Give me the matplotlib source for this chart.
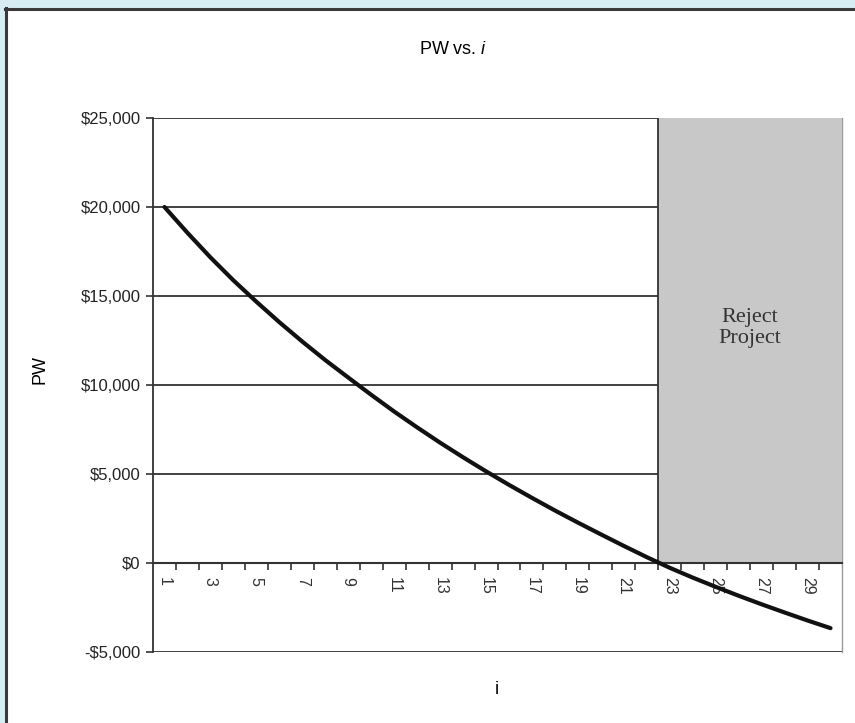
import numpy as np
import matplotlib.pyplot as plt
from matplotlib.patches import Rectangle
from matplotlib.lines import Line2D

plt.rcParams['font.family'] = ['Liberation Sans', 'DejaVu Sans']
plt.rcParams['mathtext.fontset'] = 'custom'
plt.rcParams['mathtext.rm'] = 'Liberation Sans'
plt.rcParams['mathtext.it'] = 'Liberation Sans:italic'

# Taux d'interet (%) et valeur actuelle PW
rates = list(range(1, 31))
pw = [20000, 18550, 17170, 15880, 14680, 13530, 12440, 11400, 10420, 9450,
      8510, 7620, 6760, 5940, 5150, 4390, 3660, 2950, 2270, 1610,
      960, 330, -270, -820, -1340, -1840, -2320, -2780, -3230, -3660]
y_ticks = [-5000, 0, 5000, 10000, 15000, 20000, 25000]
reject_from = 22.5   # limite de la zone de rejet (entre 22 et 23)

W, H = 855, 723
fig = plt.figure(figsize=(W / 100, H / 100), dpi=100)
fig.patch.set_facecolor('#d7edf4')

# panneau blanc avec bordure sombre
fig.patches.append(Rectangle((5 / W, 0), 1 - 5 / W, 1 - 8 / H, transform=fig.transFigure,
                             facecolor='white', edgecolor='none', zorder=-5))
fig.lines.append(Line2D([6 / W, 6 / W], [0, 1 - 8 / H], transform=fig.transFigure,
                        color='#3a3a3a', lw=2.2, zorder=-4))
fig.lines.append(Line2D([5 / W, 1], [1 - 9 / H, 1 - 9 / H], transform=fig.transFigure,
                        color='#3a3a3a', lw=2.2, zorder=-4))

left, right, top, bottom = 153, 842, 118, 652
ax = fig.add_axes([left / W, 1 - bottom / H, (right - left) / W, (bottom - top) / H])
ax.set_zorder(2)
ax.set_facecolor('white')
ax.set_xlim(0.5, 30.5)
ax.set_ylim(-5000, 25000)

# grille horizontale
for yv in y_ticks:
    ax.axhline(yv, color='#333333', lw=1.3, zorder=1)

# zone "Reject Project"
ax.fill_between([reject_from, 30.5], 0, 25000, color='#c8c8c8', zorder=2, lw=0)
ax.plot([reject_from, reject_from], [0, 25000], color='#333333', lw=1.3, zorder=3)
ax.text(26.5, 13200, 'Reject\nProject', family='Liberation Serif', fontsize=16,
        color='#333333', ha='center', va='center', linespacing=1.15, zorder=3)

ax.plot(rates, pw, color='#111111', lw=3.0, zorder=5, solid_capstyle='round')

# axes
for s in ['top', 'right']:
    ax.spines[s].set_visible(False)
ax.plot([30.5, 30.5], [-5000, 25000], color='#9a9a9a', lw=1.0, zorder=1, clip_on=False)
ax.spines['left'].set_color('#333333')
ax.spines['left'].set_linewidth(1.3)
ax.spines['bottom'].set_position(('data', 0))
ax.spines['bottom'].set_color('#333333')
ax.spines['bottom'].set_linewidth(1.5)
ax.spines['bottom'].set_zorder(4)

ax.set_yticks(y_ticks)
ax.set_yticklabels(['-$5,000' if v < 0 else f'${v:,}' for v in y_ticks], fontsize=12, color='#222222')
ax.tick_params(axis='y', length=5, width=1.2, color='#333333', pad=4)

ax.set_xticks(np.arange(1.5, 30.5, 1.0))
ax.set_xticklabels([])
ax.tick_params(axis='x', which='major', length=5, width=1.2, color='#333333', direction='out')
ax.set_xticks(rates, minor=True)
ax.set_xticklabels([str(r) if r % 2 == 1 else '' for r in rates], minor=True,
                   rotation=-90, fontsize=11.5, color='#333333')
ax.tick_params(axis='x', which='minor', length=0, pad=10)

fig.text(453 / W, 1 - 50 / H, r'PW vs. $\mathit{i}$', ha='center', va='center', fontsize=13)
fig.text(40 / W, 1 - 370 / H, 'PW', rotation=90, ha='center', va='center', fontsize=13)
fig.text(497 / W, 1 - 690 / H, 'i', ha='center', va='center', fontsize=13)

plt.savefig('out.png', dpi=100, facecolor=fig.get_facecolor())
